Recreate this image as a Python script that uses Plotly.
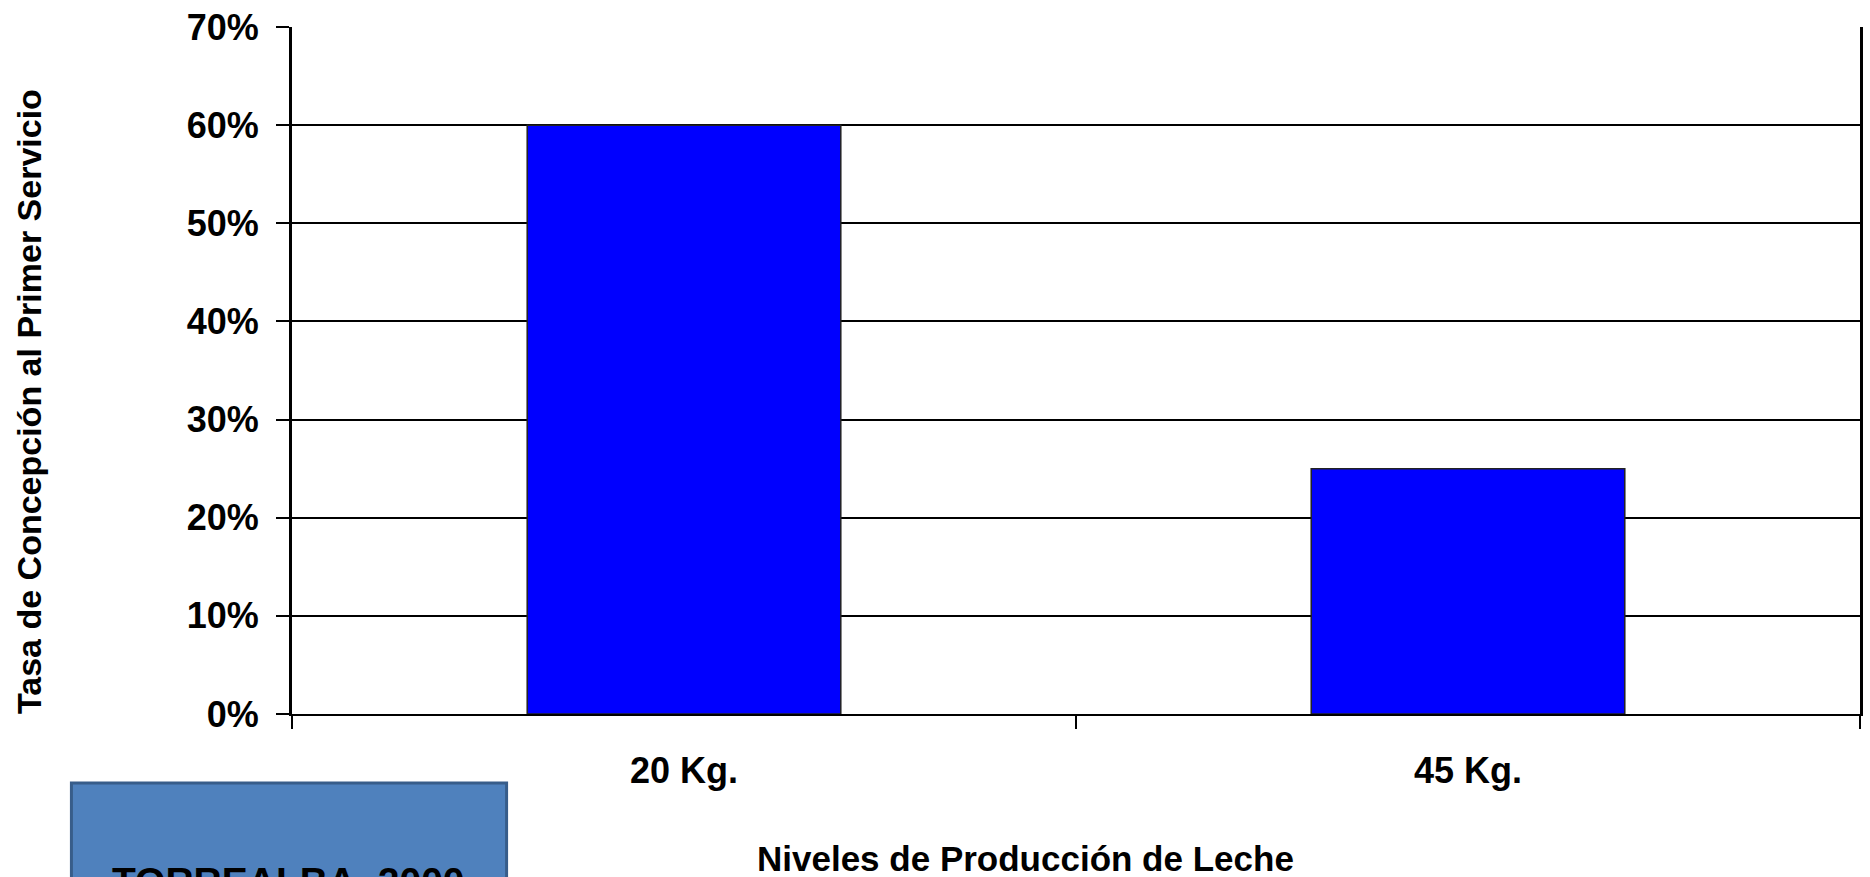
import plotly.graph_objects as go

# Data
niveles = ["20 Kg.", "45 Kg."]
tasa_concepcion = [0.60, 0.25]
y_tick_values = [0.0, 0.1, 0.2, 0.3, 0.4, 0.5, 0.6, 0.7]
y_tick_labels = ["0%", "10%", "20%", "30%", "40%", "50%", "60%", "70%"]

W, H = 1870, 877
ML, MR, MT, MB = 292, 7, 26, 163
PW = W - ML - MR
PH = H - MT - MB


def px_x(px):
    return (px - ML) / PW


def px_y(py):
    return (H - MB - py) / PH


FONT = "Liberation Sans, Arial, sans-serif"

fig = go.Figure()
fig.add_trace(
    go.Bar(
        x=niveles,
        y=tasa_concepcion,
        width=0.4,
        marker=dict(color="#0000FF", line=dict(color="#222222", width=1.5)),
        showlegend=False,
        hoverinfo="x+y",
    )
)

fig.update_layout(
    width=W,
    height=H,
    autosize=False,
    margin=dict(l=ML, r=MR, t=MT, b=MB, pad=0),
    paper_bgcolor="white",
    plot_bgcolor="white",
    bargap=0.6,
    xaxis=dict(
        type="category",
        tickson="boundaries",
        ticks="outside",
        ticklen=13,
        tickwidth=2,
        tickcolor="black",
        showline=True,
        linecolor="black",
        linewidth=2,
        showgrid=False,
        tickfont=dict(family=FONT, size=36, color="black", weight="bold"),
        ticklabelstandoff=24,
    ),
    yaxis=dict(
        range=[0, 0.7],
        tickvals=y_tick_values,
        ticktext=y_tick_labels,
        ticks="outside",
        ticklen=13,
        tickwidth=2,
        tickcolor="black",
        showline=True,
        mirror=True,
        linecolor="black",
        linewidth=3,
        showgrid=True,
        gridcolor="black",
        gridwidth=2,
        zeroline=False,
        tickfont=dict(family=FONT, size=36, color="black", weight="bold"),
        ticklabelstandoff=10,
    ),
    shapes=[
        dict(
            type="rect",
            xref="paper",
            yref="paper",
            x0=px_x(71),
            x1=px_x(507),
            y0=px_y(920),
            y1=px_y(783),
            fillcolor="#4F81BD",
            line=dict(color="#385D8A", width=3),
            layer="above",
        )
    ],
    annotations=[
        dict(
            text="Niveles de Producción de Leche",
            xref="paper",
            yref="paper",
            x=px_x(1027),
            y=px_y(859),
            xanchor="center",
            yanchor="middle",
            showarrow=False,
            font=dict(family=FONT, size=35, color="black", weight="bold"),
        ),
        dict(
            text="Tasa de Concepción al Primer Servicio",
            xref="paper",
            yref="paper",
            x=px_x(29),
            y=px_y(401),
            xanchor="center",
            yanchor="middle",
            textangle=-90,
            showarrow=False,
            font=dict(family=FONT, size=34, color="black", weight="bold"),
        ),
        dict(
            text="TORREALBA, 2000",
            xref="paper",
            yref="paper",
            x=px_x(288),
            y=px_y(882),
            xanchor="center",
            yanchor="middle",
            showarrow=False,
            font=dict(family=FONT, size=39, color="black", weight="bold"),
        ),
    ],
)

fig.write_html("out.html")
